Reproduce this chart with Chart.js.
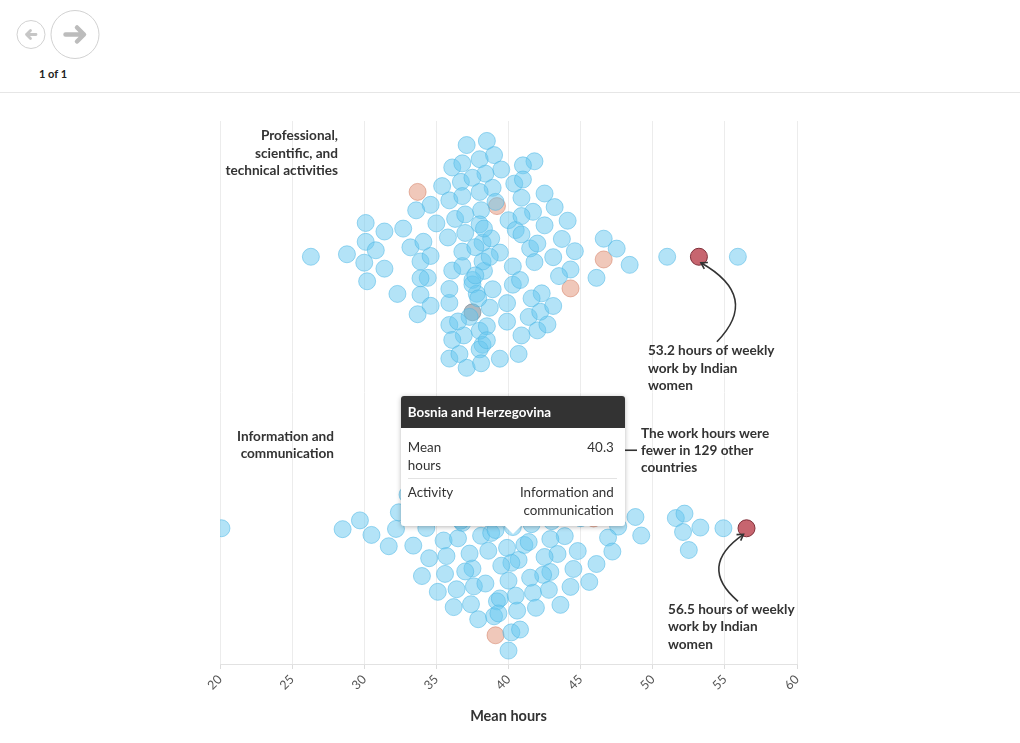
<!DOCTYPE html>
<html>
<head>
<meta charset="utf-8">
<script src="https://cdn.jsdelivr.net/npm/chart.js@4.4.1/dist/chart.umd.min.js"></script>
<style>
  html, body { margin:0; padding:0; background:#fff; width:1020px; height:743px; overflow:hidden; font-family: Lato, "Source Sans Pro", sans-serif; }
  #hdr { position:absolute; left:0; top:0; }
  #pager { position:absolute; left:53px; top:67px; transform:translateX(-50%); font:bold 11px Lato, sans-serif; color:#222; white-space:nowrap; }
  #rule { position:absolute; left:0; top:92px; width:1020px; height:1px; background:#e6e6e6; }
  #wrap { position:absolute; left:0; top:100px; width:1020px; height:643px; }
  #tip { position:absolute; width:224px; background:#fff; border-radius:3px; box-shadow:0 1px 5px rgba(0,0,0,0.28); font:13.4px Lato, sans-serif; color:#333; }
  #tip .hd { background:#333; color:#fff; font-weight:bold; height:32px; line-height:32px; padding-left:7px; border-radius:3px 3px 0 0; }
  #tip .row { display:flex; justify-content:space-between; padding:0 11px 0 7px; line-height:18px; }
  #tip .r1 { padding-top:10px; padding-bottom:4px; }
  #tip .r2 { padding-top:4px; padding-bottom:7px; }
  #tip .k { width:48px; }
  #tip .v { width:130px; text-align:right; }
  #tip .sep { height:1px; background:#e3e3e3; margin:0 8px 0 7px; }
  #tip .caret { position:absolute; left:104px; bottom:-8px; width:0; height:0; border-left:8px solid transparent; border-right:8px solid transparent; border-top:8px solid #fff; }
</style>
</head>
<body>
<svg id="hdr" width="130" height="90">
  <circle cx="31" cy="34.5" r="14" fill="#fff" stroke="#d2d2d2" stroke-width="1"/>
  <path d="M36 34.5 H26.5 M30.5 30.5 L26.5 34.5 L30.5 38.5" stroke="#c6c6c6" stroke-width="2.8" fill="none" stroke-linecap="round" stroke-linejoin="round"/>
  <circle cx="75" cy="34.5" r="24" fill="#fff" stroke="#d2d2d2" stroke-width="1"/>
  <path d="M65.5 34.5 H83.5 M77 27.5 L84 34.5 L77 41.5" stroke="#bcbcbc" stroke-width="4.5" fill="none" stroke-linecap="round" stroke-linejoin="round"/>
</svg>
<div id="pager">1 of 1</div>
<div id="rule"></div>
<div id="wrap"><canvas id="c" width="1020" height="643"></canvas></div>
<div id="tip">
  <div class="hd" id="tipTitle"></div>
  <div class="row r1"><div class="k">Mean hours</div><div class="v" id="tipHours"></div></div>
  <div class="sep"></div>
  <div class="row r2"><div class="k">Activity</div><div class="v" id="tipAct"></div></div>
  <div class="caret"></div>
</div>
<script>
// ---------------- DATA ----------------
const activities = ['Professional, scientific, and technical activities', 'Information and communication'];
const activityLabelLines = [['Professional,', 'scientific, and', 'technical activities'], ['Information and', 'communication']];
const xTickValues = [20, 25, 30, 35, 40, 45, 50, 55, 60];

// Mean weekly hours, Professional, scientific and technical activities (other countries)
const professionalOther = [36.3, 36.1, 38.2, 36.8, 38.3, 42.3, 40.3, 37.5, 41.5, 35.9, 38.2, 40.4, 41.8, 36.9, 38.9,
  33.9, 38.2, 40.9, 43.7, 36.7, 42.5, 34.4, 35.9, 37.3, 40.3, 41.4, 44.1, 33.2, 35.0, 36.8, 38.0, 43.1, 40.0, 41.6,
  38.8, 36.1, 33.9, 30.1, 31.4, 38.0, 32.3, 35.4, 40.5, 42.0, 43.2, 44.3, 48.4, 30.8, 33.7, 39.0, 37.0, 26.3, 28.8,
  30.0, 32.7, 34.6, 35.9, 38.4, 39.4, 40.8, 42.5, 46.1, 47.5, 51.0, 55.9, 34.6, 35.9, 37.1, 38.7, 39.9, 41.0, 42.7,
  44.6, 46.6, 30.2, 31.4, 38.0, 35.8, 37.5, 38.5, 40.9, 42.0, 43.5, 30.1, 34.6, 36.8, 33.6, 39.9, 41.0, 42.2, 35.9,
  37.1, 38.0, 39.5, 33.9, 43.1, 37.0, 40.9, 39.4, 34.1, 36.1, 37.8, 39.1, 40.7, 41.7, 36.8, 38.1, 41.8, 36.6, 38.0,
  40.9, 36.5, 38.5, 37.5, 37.7, 37.9, 38.1, 38.3, 38.5, 38.7, 37.7, 38.9];
const professionalNeighbours = [39.2, 46.6, 44.3, 33.7];

// Mean weekly hours, Information and communication (other countries)
const infoOther = [20.1, 28.5, 29.7, 30.5, 32.2, 32.4, 31.7, 33.0, 34.3, 34.5, 34.2, 35.5, 36.0, 36.4, 35.7, 36.8,
  35.2, 36.6, 37.5, 38.0, 38.1, 37.9, 38.9, 39.2, 39.2, 35.7, 38.0, 37.6, 36.7, 38.4, 37.3, 39.4, 40.7, 40.2, 40.2,
  41.7, 42.0, 42.9, 42.4, 41.6, 43.4, 43.8, 43.8, 43.9, 45.0, 46.1, 45.2, 45.0, 44.3, 44.4, 42.9, 42.0, 40.2, 40.6,
  40.0, 41.3, 40.3, 40.7, 47.6, 48.8, 49.2, 52.1, 51.6, 53.3, 54.9, 52.2, 52.5, 38.7,
  33.4, 34.0, 34.8, 35.1, 35.6, 35.9, 36.2, 36.5, 36.9, 37.0, 37.2, 37.4, 37.7, 37.9, 38.1, 38.2, 38.4, 38.6, 38.8,
  39.0, 39.1, 39.3, 39.5, 39.6, 39.7, 39.8, 39.9, 40.0, 40.1, 40.4, 40.5, 40.6, 40.8, 40.9, 41.0, 41.1, 41.2, 41.4,
  41.5, 41.8, 41.9, 42.1, 42.3, 42.5, 42.6, 42.8, 43.0, 43.3, 43.6, 44.0, 44.5, 44.8, 45.3, 45.6, 46.4, 46.9, 47.2];
const infoNeighbours = [36.8, 39.1, 45.9];

const indiaHours = [53.2, 56.5];
const bosniaHours = [37.5, 40.3];
const bosniaName = 'Bosnia and Herzegovina';

// ---------------- CHART ----------------
Chart.defaults.font.family = 'Lato, "Source Sans Pro", sans-serif';
const ROW_CENTER = [1.5, 0.5];   // y-scale positions of the two activity bands
const RADIUS = 8.5;
const COLLIDE = 9.6;
const LABEL_FONT = 'bold 13.6px Lato, sans-serif';

function rowPoints(row) {
  const other = row === 0 ? professionalOther : infoOther;
  const neigh = row === 0 ? professionalNeighbours : infoNeighbours;
  const pts = [];
  other.forEach(v => pts.push({x: v, y: ROW_CENTER[row], row, grp: 0}));
  neigh.forEach(v => pts.push({x: v, y: ROW_CENTER[row], row, grp: 1}));
  pts.push({x: bosniaHours[row], y: ROW_CENTER[row], row, grp: 2});
  pts.push({x: indiaHours[row], y: ROW_CENTER[row], row, grp: 3});
  return pts;
}
const rows = [rowPoints(0), rowPoints(1)];
const byGroup = g => rows[0].concat(rows[1]).filter(p => p.grp === g);

const annotPlugin = {
  id: 'annot',
  afterDatasetsDraw(chart) {
    const ctx = chart.ctx, ys = chart.scales.y;
    const c0 = ys.getPixelForValue(ROW_CENTER[0]), c1 = ys.getPixelForValue(ROW_CENTER[1]);
    ctx.save();
    ctx.font = LABEL_FONT;
    ctx.fillStyle = '#333';
    ctx.textBaseline = 'middle';
    ctx.textAlign = 'right';
    activityLabelLines[0].forEach((t, i) => ctx.fillText(t, 338, c0 - 121 + i * 17.6));
    activityLabelLines[1].forEach((t, i) => ctx.fillText(t, 334, c1 - 92 + i * 17.8));
    ctx.textAlign = 'left';
    const meta = chart.getDatasetMeta(3).data;
    const p1 = meta[0], p2 = meta[1];
    const lines1 = [indiaHours[0] + ' hours of weekly', 'work by Indian', 'women'];
    lines1.forEach((t, i) => ctx.fillText(t, p1.x - 51, p1.y + 94 + i * 17.6));
    const lines2 = [indiaHours[1] + ' hours of weekly', 'work by Indian', 'women'];
    lines2.forEach((t, i) => ctx.fillText(t, p2.x - 78.5, p2.y + 81 + i * 17.7));
    const fewer = rows[1].filter(p => p.grp !== 3 && p.x < indiaHours[1]).length;
    ['The work hours were', 'fewer in ' + fewer + ' other', 'countries'].forEach((t, i) =>
      ctx.fillText(t, p2.x - 105.5, c1 - 95 + i * 17.2));
    ctx.strokeStyle = '#333';
    ctx.lineWidth = 1.6;
    ctx.beginPath(); ctx.moveTo(p2.x - 140, c1 - 78); ctx.lineTo(p2.x - 109.5, c1 - 78); ctx.stroke();
    function arrow(sx, sy, cx, cy, ex, ey) {
      ctx.beginPath(); ctx.moveTo(sx, sy); ctx.quadraticCurveTo(cx, cy, ex, ey); ctx.stroke();
      const a = Math.atan2(ey - cy, ex - cx), L = 7;
      ctx.beginPath();
      ctx.moveTo(ex - L * Math.cos(a - 0.55), ey - L * Math.sin(a - 0.55));
      ctx.lineTo(ex, ey);
      ctx.lineTo(ex - L * Math.cos(a + 0.55), ey - L * Math.sin(a + 0.55));
      ctx.stroke();
    }
    arrow(p1.x + 18, p1.y + 85, p1.x + 62, p1.y + 40, p1.x + 2, p1.y + 6);
    arrow(p2.x - 8.5, p2.y + 73, p2.x - 49.5, p2.y + 38, p2.x - 3, p2.y + 6);
    ctx.restore();
  }
};

const colors = {
  fill: ['rgba(104,200,240,0.5)', 'rgba(222,132,102,0.45)', null, 'rgba(183,58,70,0.78)'],
  line: ['rgba(80,184,230,0.55)', 'rgba(210,120,92,0.5)', null, '#7f2e38']
};

const chart = new Chart(document.getElementById('c'), {
  type: 'scatter',
  data: {
    datasets: [0, 1, 2, 3].map(g => ({
      label: ['other', 'neighbours', 'bosnia', 'india'][g],
      data: byGroup(g),
      pointRadius: RADIUS,
      pointHoverRadius: RADIUS,
      borderWidth: 1,
      backgroundColor: g === 2 ? (c => c.raw && c.raw.row === 0 ? 'rgba(120,138,152,0.6)' : 'rgba(80,188,240,0.62)') : colors.fill[g],
      borderColor: g === 2 ? (c => c.raw && c.raw.row === 0 ? 'rgba(110,128,142,0.6)' : 'rgba(70,170,225,0.7)') : colors.line[g]
    }))
  },
  options: {
    responsive: false,
    animation: false,
    devicePixelRatio: 1,
    events: [],
    layout: { padding: { left: 220, right: 223, top: 21, bottom: 0 } },
    plugins: { legend: { display: false }, tooltip: { enabled: false } },
    scales: {
      x: {
        type: 'linear', min: 20, max: 60, position: 'bottom',
        afterBuildTicks: s => { s.ticks = xTickValues.map(v => ({ value: v })); },
        afterFit: s => { s.height = 79; },
        ticks: { color: '#555', font: { size: 12.5 }, minRotation: 45, maxRotation: 45, padding: 3, autoSkip: false },
        grid: { color: '#ececec', lineWidth: 1, tickLength: 5, tickColor: '#dcdcdc' },
        border: { display: true, color: '#e2e2e2' },
        title: { display: true, text: 'Mean hours', color: '#333', font: { size: 14.5, weight: 'bold' }, padding: { top: 4, bottom: 18 } }
      },
      y: { type: 'linear', min: 0, max: 2, display: false }
    }
  },
  plugins: [annotPlugin]
});

// ---------- beeswarm layout (force simulation, d3-style) ----------
function swarm(targets, r) {
  const n = targets.length;
  const nodes = targets.map((tx, i) => {
    const rr = 10 * Math.sqrt(0.5 + i), a = i * Math.PI * (3 - Math.sqrt(5));
    return { tx, x: tx + rr * Math.cos(a), y: rr * Math.sin(a), vx: 0, vy: 0 };
  });
  let alpha = 1;
  const decay = 1 - Math.pow(0.001, 1 / 300);
  for (let k = 0; k < 300; k++) {
    alpha += (0 - alpha) * decay;
    for (const d of nodes) { d.vx += (d.tx - d.x) * 1 * alpha; d.vy += (0 - d.y) * 0.1 * alpha; }
    const R = 2 * r;
    for (let i = 0; i < n; i++) {
      const a = nodes[i]; const xi = a.x + a.vx, yi = a.y + a.vy;
      for (let j = i + 1; j < n; j++) {
        const b = nodes[j];
        let dx = xi - b.x - b.vx, dy = yi - b.y - b.vy, l = dx * dx + dy * dy;
        if (l < R * R) {
          if (dx === 0) dx = 1e-6 * ((i + j) % 2 ? 1 : -1);
          if (dy === 0) dy = 1e-6 * ((i * 7 + j) % 2 ? 1 : -1);
          l = Math.sqrt(dx * dx + dy * dy);
          const f = (R - l) / l;
          dx *= f; dy *= f;
          a.vx += dx * 0.5; a.vy += dy * 0.5;
          b.vx -= dx * 0.5; b.vy -= dy * 0.5;
        }
      }
    }
    for (const d of nodes) { d.vx *= 0.6; d.vy *= 0.6; d.x += d.vx; d.y += d.vy; }
  }
  return nodes;
}

const xs = chart.scales.x, ysc = chart.scales.y;
rows.forEach((pts, row) => {
  const centerPx = ysc.getPixelForValue(ROW_CENTER[row]);
  const nodes = swarm(pts.map(p => xs.getPixelForValue(p.x)), COLLIDE);
  nodes.forEach((nd, i) => { pts[i].y = ysc.getValueForPixel(centerPx + nd.y); });
});
chart.update('none');

// ---------- tooltip for the highlighted country ----------
const bos = chart.getDatasetMeta(2).data[1];
const tip = document.getElementById('tip');
document.getElementById('tipTitle').textContent = bosniaName;
document.getElementById('tipHours').textContent = bosniaHours[1].toFixed(1);
document.getElementById('tipAct').textContent = activities[1];
const c1px = ysc.getPixelForValue(ROW_CENTER[1]);
tip.style.left = (bos.x - 112) + 'px';
tip.style.top = (100 + c1px - 132) + 'px';
</script>
</body>
</html>
